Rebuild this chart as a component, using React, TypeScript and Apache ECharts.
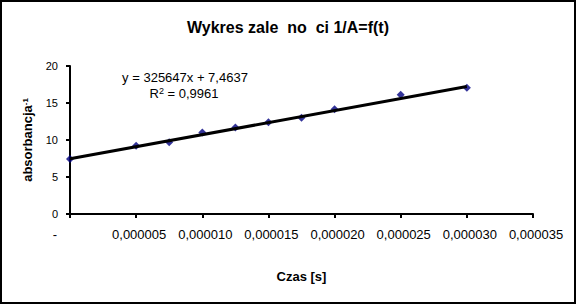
import React, { useEffect, useRef } from "react";
import * as echarts from "echarts";

const times = [0, 0.000005, 0.0000075, 0.00001, 0.0000125, 0.000015, 0.0000175, 0.00002, 0.000025, 0.00003];
const invAbs = [7.43, 9.22, 9.7, 11.0, 11.7, 12.4, 13.0, 14.15, 16.1, 17.05];
const slope = 325647;
const intercept = 7.4637;
const trendX = [0, 0.00003];
const yTicks = [0, 5, 10, 15, 20];
const xTickStep = 0.000005;
const xMax = 0.000035;

const titleText = "Wykres zale  no  ci 1/A=f(t)";
const eqText = "y = 325647x + 7,4637";
const r2Value = "0,9961";

const FONT = "'Liberation Sans', Arial, sans-serif";

export default function App() {
  const ref = useRef<HTMLDivElement>(null);
  useEffect(() => {
    document.body.style.margin = "0";
    const chart = echarts.init(ref.current!, null, { renderer: "svg" });
    const scatterData = times.map((t, i) => [t, invAbs[i]]);
    const trendData = trendX.map((t) => [t, slope * t + intercept]);
    chart.setOption({
      animation: false,
      backgroundColor: "#ffffff",
      textStyle: { fontFamily: FONT },
      title: {
        text: titleText,
        left: "center",
        top: 14,
        textStyle: { fontFamily: FONT, fontSize: 16, fontWeight: "bold", color: "#000" },
      },
      grid: { left: 70, right: 43, top: 66, bottom: 90 },
      xAxis: {
        type: "value",
        min: 0,
        max: xMax,
        interval: xTickStep,
        name: "Czas [s]",
        nameLocation: "middle",
        nameGap: 56,
        nameTextStyle: { fontFamily: FONT, fontSize: 13, fontWeight: "bold", color: "#000" },
        axisLine: { show: true, onZero: false, lineStyle: { color: "#000", width: 2 } },
        axisTick: { show: true, length: 4, lineStyle: { color: "#000", width: 2 } },
        splitLine: { show: false },
        axisLabel: {
          margin: 14,
          color: "#000",
          fontFamily: FONT,
          fontSize: 13,
          formatter: (v: number) => (v === 0 ? "{d|-}" : "{n|" + v.toFixed(6).replace(".", ",") + "}"),
          rich: {
            d: { fontFamily: FONT, fontSize: 13, color: "#000", padding: [0, 30, 0, 0] },
            n: { fontFamily: FONT, fontSize: 13, color: "#000", padding: [0, 0, 0, 6] },
          },
        },
      },
      yAxis: {
        type: "value",
        min: yTicks[0],
        max: yTicks[yTicks.length - 1],
        interval: yTicks[1] - yTicks[0],
        name: "{a|absorbancja}{s|-1}",
        nameLocation: "middle",
        nameGap: 36,
        nameRotate: 90,
        nameTextStyle: {
          rich: {
            a: { fontFamily: FONT, fontSize: 13, fontWeight: "bold", color: "#000" },
            s: { fontFamily: FONT, fontSize: 8, fontWeight: "bold", color: "#000", verticalAlign: "top" },
          },
        },
        axisLine: { show: true, lineStyle: { color: "#000", width: 2 } },
        axisTick: { show: true, length: 4, lineStyle: { color: "#000", width: 2 } },
        splitLine: { show: false },
        axisLabel: { margin: 12, color: "#000", fontFamily: FONT, fontSize: 11 },
      },
      graphic: [
        {
          type: "rect",
          shape: { x: 1, y: 1, width: 574, height: 302 },
          style: { fill: "none", stroke: "#000", lineWidth: 2 },
          z: 100,
        },
        {
          type: "text",
          x: 185,
          y: 77,
          style: {
            text: eqText,
            fontFamily: FONT,
            fontSize: 13,
            fill: "#000",
            align: "center",
            verticalAlign: "middle",
          },
        },
        {
          type: "text",
          x: 184,
          y: 93,
          style: {
            text: "{r|R}{s|2}{r| = " + r2Value + "}",
            fontFamily: FONT,
            fontSize: 13,
            fill: "#000",
            align: "center",
            verticalAlign: "middle",
            rich: {
              r: { fontFamily: FONT, fontSize: 13, fill: "#000" },
              s: { fontFamily: FONT, fontSize: 9, fill: "#000", verticalAlign: "top" },
            },
          },
        },
      ],
      series: [
        {
          type: "scatter",
          data: scatterData,
          symbol: "diamond",
          symbolSize: 8,
          itemStyle: { color: "#000080" },
          z: 2,
        },
        {
          type: "line",
          data: trendData,
          symbol: "none",
          lineStyle: { color: "#000", width: 3 },
          z: 3,
        },
      ],
    });
    return () => chart.dispose();
  }, []);
  return <div ref={ref} style={{ width: 576, height: 304 }} />;
}
